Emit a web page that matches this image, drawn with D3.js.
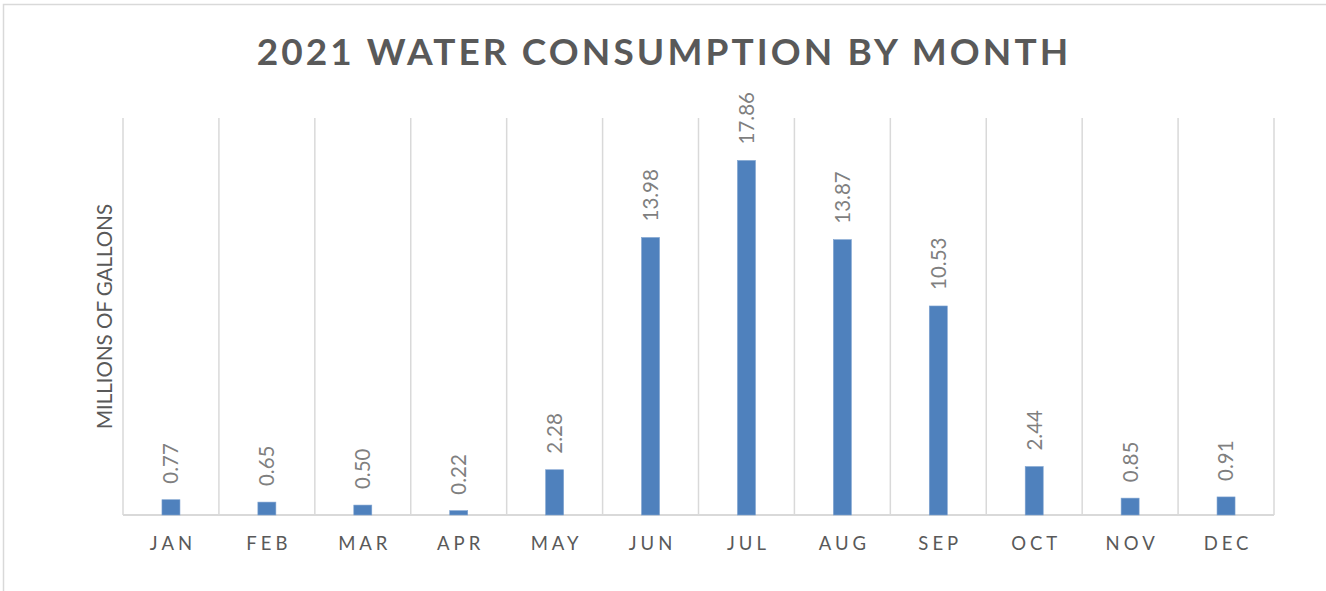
<!DOCTYPE html>
<html>
<head>
<meta charset="utf-8">
<script src="https://cdn.jsdelivr.net/npm/d3@7"></script>
<style>
  html, body { margin: 0; padding: 0; background: #fff; }
  svg { display: block; }
</style>
</head>
<body>
<div id="chart"></div>
<script>
const months = ["JAN","FEB","MAR","APR","MAY","JUN","JUL","AUG","SEP","OCT","NOV","DEC"];
const consumption = [0.77, 0.65, 0.50, 0.22, 2.28, 13.98, 17.86, 13.87, 10.53, 2.44, 0.85, 0.91];
const yDomain = [0, 20];
const chartTitle = "2021 WATER CONSUMPTION BY MONTH";
const yAxisTitle = "MILLIONS OF GALLONS";

const W = 1326, H = 591;
const margin = { top: 118, right: 52, bottom: 76, left: 123 };

const svg = d3.select("#chart").append("svg")
  .attr("width", W).attr("height", H);

// outer chart border
svg.append("rect")
  .attr("x", 3.5).attr("y", 4.5)
  .attr("width", W + 10).attr("height", H + 10)
  .attr("fill", "none").attr("stroke", "#d9d9d9").attr("stroke-width", 1.5);

const x = d3.scaleBand().domain(months)
  .range([margin.left, W - margin.right]).paddingInner(0).paddingOuter(0);
const y = d3.scaleLinear().domain(yDomain).range([H - margin.bottom, margin.top]);

const baseY = y(0);

// vertical gridlines at category boundaries
const bounds = months.map(m => x(m) + x.bandwidth());
svg.append("g").selectAll("line").data(bounds).join("line")
  .attr("x1", d => d).attr("x2", d => d)
  .attr("y1", y(yDomain[1])).attr("y2", baseY)
  .attr("stroke", "#d9d9d9").attr("stroke-width", 1.5);

// x axis
const xAxis = d3.axisBottom(x).tickSize(0).tickPadding(0);
const gx = svg.append("g").attr("transform", `translate(0,${baseY})`).call(xAxis);
gx.select(".domain").attr("stroke", "#d9d9d9").attr("stroke-width", 2)
  .attr("d", `M${margin.left},0H${W - margin.right}`);
// left vertical boundary
svg.append("line")
  .attr("x1", margin.left).attr("x2", margin.left)
  .attr("y1", y(yDomain[1])).attr("y2", baseY)
  .attr("stroke", "#d9d9d9").attr("stroke-width", 1.5);
gx.selectAll(".tick text")
  .attr("y", 35)
  .attr("dy", 0)
  .attr("fill", "#595959")
  .style("font-family", "Lato, 'Open Sans', sans-serif")
  .style("font-size", "18.5px")
  .style("letter-spacing", "4px")
  .attr("dx", "2px");

// bars
const barW = 18;
svg.append("g").selectAll("rect").data(consumption).join("rect")
  .attr("x", (d, i) => x(months[i]) + x.bandwidth() / 2 - barW / 2)
  .attr("y", d => y(d))
  .attr("width", barW)
  .attr("height", d => baseY - y(d))
  .attr("fill", "#4f81bd")
  .attr("stroke", "#7fa3d0").attr("stroke-width", 0.6);

// data labels (rotated)
svg.append("g").selectAll("text").data(consumption).join("text")
  .attr("transform", (d, i) => `translate(${x(months[i]) + x.bandwidth() / 2},${y(d) - 16}) rotate(-90)`)
  .attr("text-anchor", "start")
  .attr("dy", "0.36em")
  .attr("fill", "#7f7f7f")
  .style("font-family", "Lato, 'Open Sans', sans-serif")
  .style("font-size", "20.5px")
  .text(d => d.toFixed(2));

// title
svg.append("text")
  .attr("x", 664).attr("y", 65)
  .attr("text-anchor", "middle")
  .attr("fill", "#595959")
  .style("font-family", "Lato, 'Open Sans', sans-serif")
  .style("font-weight", "bold")
  .style("font-size", "37px")
  .style("letter-spacing", "3.1px")
  .text(chartTitle);

// y axis title
svg.append("text")
  .attr("transform", `translate(105,${(205 + 428) / 2}) rotate(-90)`)
  .attr("text-anchor", "middle")
  .attr("dy", "0.36em")
  .attr("fill", "#595959")
  .style("font-family", "Lato, 'Open Sans', sans-serif")
  .style("font-size", "20.5px")
  .text(yAxisTitle);
</script>
</body>
</html>
